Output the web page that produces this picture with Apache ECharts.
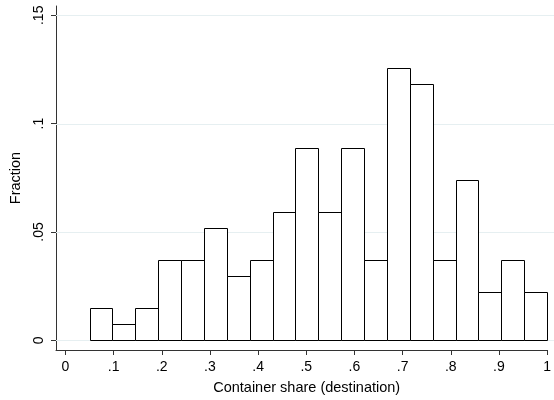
<!DOCTYPE html>
<html>
<head>
<meta charset="utf-8">
<script src="https://cdn.jsdelivr.net/npm/echarts@6/dist/echarts.min.js"></script>
<style>
html,body{margin:0;padding:0;background:#fff;}
#chart{width:554px;height:400px;}
</style>
</head>
<body>
<div id="chart"></div>
<script>
// Histogram bin edges (Container share, destination)
var binEdges = [0.05, 0.0975, 0.145, 0.1925, 0.24, 0.2875, 0.335, 0.3825, 0.43, 0.4775,
                0.525, 0.5725, 0.62, 0.6675, 0.715, 0.7625, 0.81, 0.8575, 0.905, 0.9525, 1.0];
// Fraction in each bin
var fractions = [0.0148, 0.0074, 0.0148, 0.0370, 0.0370, 0.0519, 0.0296, 0.0370, 0.0593, 0.0889,
                 0.0593, 0.0889, 0.0370, 0.1259, 0.1185, 0.0370, 0.0741, 0.0222, 0.0370, 0.0222];
// Tick values and labels
var xTicks = [0, 0.1, 0.2, 0.3, 0.4, 0.5, 0.6, 0.7, 0.8, 0.9, 1];
var xTickLabels = ['0', '.1', '.2', '.3', '.4', '.5', '.6', '.7', '.8', '.9', '1'];
var yTicks = [0, 0.05, 0.1, 0.15];
var yTickLabels = ['0', '.05', '.1', '.15'];
var xTitle = 'Container share (destination)';
var yTitle = 'Fraction';

var barData = [];
for (var i = 0; i < fractions.length; i++) {
  barData.push([binEdges[i], binEdges[i + 1], fractions[i]]);
}
var gridData = yTicks.map(function (v) { return [v]; });

function labelFor(ticks, labels) {
  return function (v) {
    for (var i = 0; i < ticks.length; i++) {
      if (Math.abs(ticks[i] - v) < 1e-9) return labels[i];
    }
    return '';
  };
}

var FONT = "'Liberation Sans', Arial, Helvetica, sans-serif";
var chart = echarts.init(document.getElementById('chart'), null, {renderer: 'canvas'});
chart.setOption({
  animation: false,
  backgroundColor: '#fff',
  grid: {left: 56, right: 5, top: 6, bottom: 50, containLabel: false},
  xAxis: {
    type: 'value',
    min: -0.01966,
    max: 1.0006,
    name: xTitle,
    nameLocation: 'middle',
    nameGap: 30,
    nameTextStyle: {fontFamily: FONT, fontSize: 14.5, color: '#000', padding: [0, 0, 0, 10], verticalAlign: 'top'},
    axisLine: {show: true, onZero: false, lineStyle: {color: '#333', width: 1}},
    axisTick: {show: true, customValues: xTicks, length: 5, lineStyle: {color: '#333', width: 1}},
    axisLabel: {customValues: xTicks, margin: 10, fontFamily: FONT, fontSize: 14, color: '#000',
                formatter: labelFor(xTicks, xTickLabels)},
    splitLine: {show: false}
  },
  yAxis: {
    type: 'value',
    min: -0.004477,
    max: 0.154292,
    name: yTitle,
    nameLocation: 'middle',
    nameGap: 33,
    nameTextStyle: {fontFamily: FONT, fontSize: 14.5, color: '#000'},
    axisLine: {show: true, onZero: false, lineStyle: {color: '#333', width: 1}},
    axisTick: {show: true, customValues: yTicks, length: 5, lineStyle: {color: '#333', width: 1}},
    axisLabel: {customValues: yTicks, rotate: 90, margin: 10, fontFamily: FONT, fontSize: 14, color: '#000',
                formatter: labelFor(yTicks, yTickLabels)},
    splitLine: {show: false}
  },
  series: [
    {
      type: 'custom',
      name: 'grid',
      silent: true,
      clip: false,
      z: 1,
      data: gridData,
      encode: {y: 0},
      renderItem: function (params, api) {
        var p = api.coord([0, api.value(0)]);
        var y = Math.round(p[1]) + 0.5;
        return {
          type: 'line',
          shape: {x1: params.coordSys.x, y1: y, x2: api.getWidth(), y2: y},
          style: {stroke: '#e6eff1', lineWidth: 1}
        };
      }
    },
    {
      type: 'custom',
      name: 'Fraction',
      z: 2,
      data: barData,
      encode: {x: [0, 1], y: 2},
      renderItem: function (params, api) {
        var p0 = api.coord([api.value(0), 0]);
        var p1 = api.coord([api.value(1), api.value(2)]);
        var x0 = Math.round(p0[0]) + 0.5;
        var x1 = Math.round(p1[0]) + 0.5;
        var yb = Math.round(p0[1]) + 0.5;
        var yt = Math.round(p1[1]) + 0.5;
        return {
          type: 'rect',
          shape: {x: x0, y: yt, width: x1 - x0, height: yb - yt},
          style: {fill: '#fff', stroke: '#000', lineWidth: 1}
        };
      }
    }
  ]
});
</script>
</body>
</html>
